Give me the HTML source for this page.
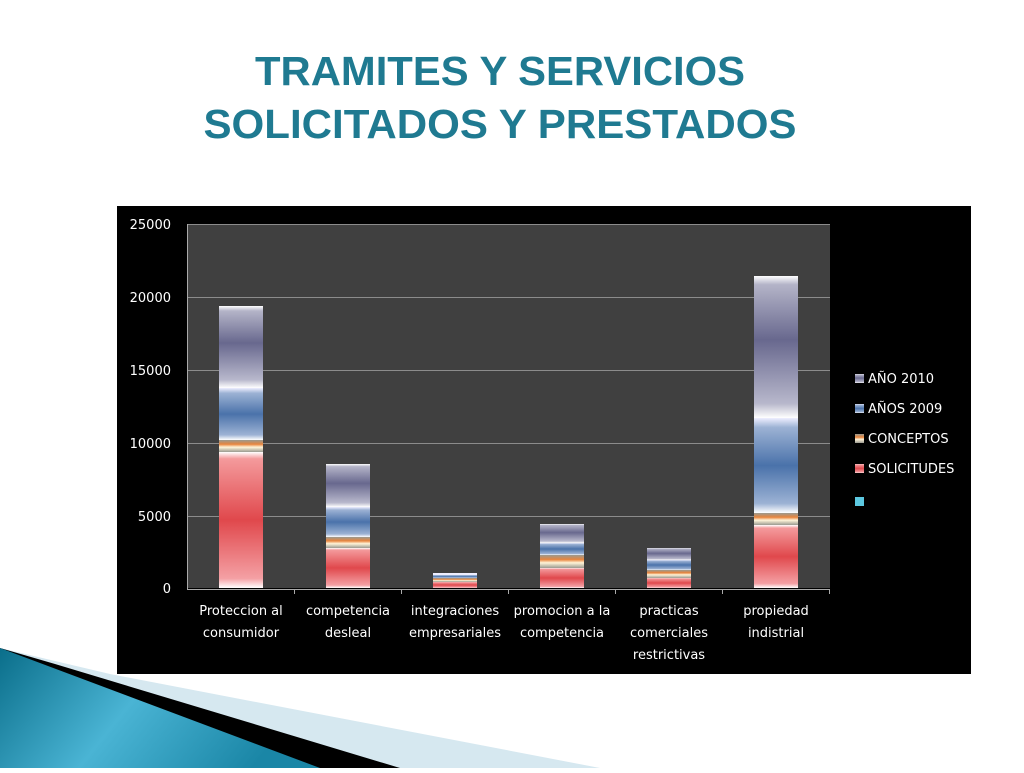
<!DOCTYPE html>
<html><head><meta charset="utf-8"><style>
html,body{margin:0;padding:0;background:#fff;}
body{width:1024px;height:768px;overflow:hidden;position:relative;font-family:"Liberation Sans",sans-serif;}
</style></head><body>
<svg width="1024" height="768" viewBox="0 0 1024 768" xmlns="http://www.w3.org/2000/svg">
<defs>
<linearGradient id="gR" x1="0" y1="0" x2="0" y2="1"><stop offset="0" stop-color="#fff"/><stop offset="0.05" stop-color="#f49a9c"/><stop offset="0.5" stop-color="#e0484c"/><stop offset="0.93" stop-color="#f4a0a4"/><stop offset="1" stop-color="#fff"/></linearGradient>
<linearGradient id="gO" x1="0" y1="0" x2="0" y2="1"><stop offset="0" stop-color="#9a9a90"/><stop offset="0.35" stop-color="#e8843c"/><stop offset="0.6" stop-color="#fff4d8"/><stop offset="1" stop-color="#9a9a90"/></linearGradient>
<linearGradient id="gB" x1="0" y1="0" x2="0" y2="1"><stop offset="0" stop-color="#eef"/><stop offset="0.1" stop-color="#9cb2d4"/><stop offset="0.5" stop-color="#4a72aa"/><stop offset="0.9" stop-color="#9cb2d4"/><stop offset="1" stop-color="#fff"/></linearGradient>
<linearGradient id="gP" x1="0" y1="0" x2="0" y2="1"><stop offset="0" stop-color="#fff"/><stop offset="0.06" stop-color="#b4b4c8"/><stop offset="0.45" stop-color="#68688e"/><stop offset="0.9" stop-color="#b8b8cc"/><stop offset="1" stop-color="#fff"/></linearGradient>
<linearGradient id="tri" x1="0" y1="0" x2="1" y2="0.3"><stop offset="0" stop-color="#0a6e8a"/><stop offset="0.5" stop-color="#4ab4d4"/><stop offset="1" stop-color="#1a86a6"/></linearGradient>
</defs>
<text x="500" y="85" text-anchor="middle" font-family="Liberation Sans, sans-serif" font-weight="bold" font-size="41" fill="#1f7a91" textLength="490" lengthAdjust="spacingAndGlyphs">TRAMITES Y SERVICIOS</text>
<text x="500" y="138" text-anchor="middle" font-family="Liberation Sans, sans-serif" font-weight="bold" font-size="41" fill="#1f7a91" textLength="593" lengthAdjust="spacingAndGlyphs">SOLICITADOS Y PRESTADOS</text>

<rect x="117" y="206" width="854" height="468" fill="#000"/>
<rect x="187" y="224" width="643" height="364" fill="#404040"/>
<g stroke="#8c8c8c" stroke-width="1">
<line x1="187" y1="224.5" x2="830" y2="224.5"/><line x1="187" y1="297.5" x2="830" y2="297.5"/><line x1="187" y1="370.5" x2="830" y2="370.5"/><line x1="187" y1="443.5" x2="830" y2="443.5"/><line x1="187" y1="516.5" x2="830" y2="516.5"/>
</g>
<g stroke="#aaa" stroke-width="1">
<line x1="187" y1="589.5" x2="830" y2="589.5"/><line x1="187.5" y1="224" x2="187.5" y2="590"/>
<line x1="294.5" y1="589" x2="294.5" y2="594"/><line x1="401.5" y1="589" x2="401.5" y2="594"/><line x1="508.5" y1="589" x2="508.5" y2="594"/><line x1="615.5" y1="589" x2="615.5" y2="594"/><line x1="722.5" y1="589" x2="722.5" y2="594"/><line x1="829.5" y1="589" x2="829.5" y2="594"/>
</g>
<g font-family="DejaVu Sans, Liberation Sans, sans-serif" font-size="13" fill="#fff" text-anchor="end">
<text x="171" y="229">25000</text><text x="171" y="302">20000</text><text x="171" y="375">15000</text><text x="171" y="448">10000</text><text x="171" y="521">5000</text><text x="171" y="593">0</text>
</g>
<g>
<rect x="219" y="452" width="44" height="136" fill="url(#gR)"/><rect x="219" y="440" width="44" height="12" fill="url(#gO)"/><rect x="219" y="388" width="44" height="52" fill="url(#gB)"/><rect x="219" y="306" width="44" height="82" fill="url(#gP)"/>
<rect x="326" y="548" width="44" height="40" fill="url(#gR)"/><rect x="326" y="537" width="44" height="11" fill="url(#gO)"/><rect x="326" y="507" width="44" height="30" fill="url(#gB)"/><rect x="326" y="464" width="44" height="43" fill="url(#gP)"/>
<rect x="433" y="582" width="44" height="6" fill="url(#gR)"/><rect x="433" y="578" width="44" height="4" fill="url(#gO)"/><rect x="433" y="575" width="44" height="3" fill="url(#gB)"/><rect x="433" y="573" width="44" height="2" fill="#eef"/>
<rect x="540" y="568" width="44" height="20" fill="url(#gR)"/><rect x="540" y="555" width="44" height="13" fill="url(#gO)"/><rect x="540" y="543" width="44" height="12" fill="url(#gB)"/><rect x="540" y="524" width="44" height="19" fill="url(#gP)"/>
<rect x="647" y="578" width="44" height="10" fill="url(#gR)"/><rect x="647" y="570" width="44" height="8" fill="url(#gO)"/><rect x="647" y="560" width="44" height="10" fill="url(#gB)"/><rect x="647" y="548" width="44" height="12" fill="url(#gP)"/>
<rect x="754" y="525" width="44" height="63" fill="url(#gR)"/><rect x="754" y="513" width="44" height="12" fill="url(#gO)"/><rect x="754" y="418" width="44" height="95" fill="url(#gB)"/><rect x="754" y="276" width="44" height="142" fill="url(#gP)"/>
</g>
<g font-family="DejaVu Sans, Liberation Sans, sans-serif" font-size="13" fill="#fff" text-anchor="middle">
<text x="241" y="615">Proteccion al</text><text x="241" y="637">consumidor</text>
<text x="348" y="615">competencia</text><text x="348" y="637">desleal</text>
<text x="455" y="615">integraciones</text><text x="455" y="637">empresariales</text>
<text x="562" y="615">promocion a la</text><text x="562" y="637">competencia</text>
<text x="669" y="615">practicas</text><text x="669" y="637">comerciales</text><text x="669" y="659">restrictivas</text>
<text x="776" y="615">propiedad</text><text x="776" y="637">indistrial</text>
</g>
<g>
<rect x="855" y="374" width="9" height="9" fill="url(#gP)"/><rect x="855" y="404" width="9" height="9" fill="url(#gB)"/><rect x="855" y="434" width="9" height="9" fill="url(#gO)"/><rect x="855" y="464" width="9" height="9" fill="url(#gR)"/><rect x="855" y="497" width="9" height="9" fill="#5cc8e0"/>
</g>
<g font-family="DejaVu Sans, Liberation Sans, sans-serif" font-size="13" fill="#fff">
<text x="868" y="383">AÑO 2010</text><text x="868" y="413">AÑOS 2009</text><text x="868" y="443">CONCEPTOS</text><text x="868" y="473">SOLICITUDES</text>
</g>
<polygon points="0,648 0,768 600,768 110,674" fill="#d6e8f0"/>
<polygon points="0,648 0,768 400,768 55,664" fill="#000"/>
<polygon points="0,648 0,768 320,768" fill="url(#tri)"/>
</svg>
</body></html>
